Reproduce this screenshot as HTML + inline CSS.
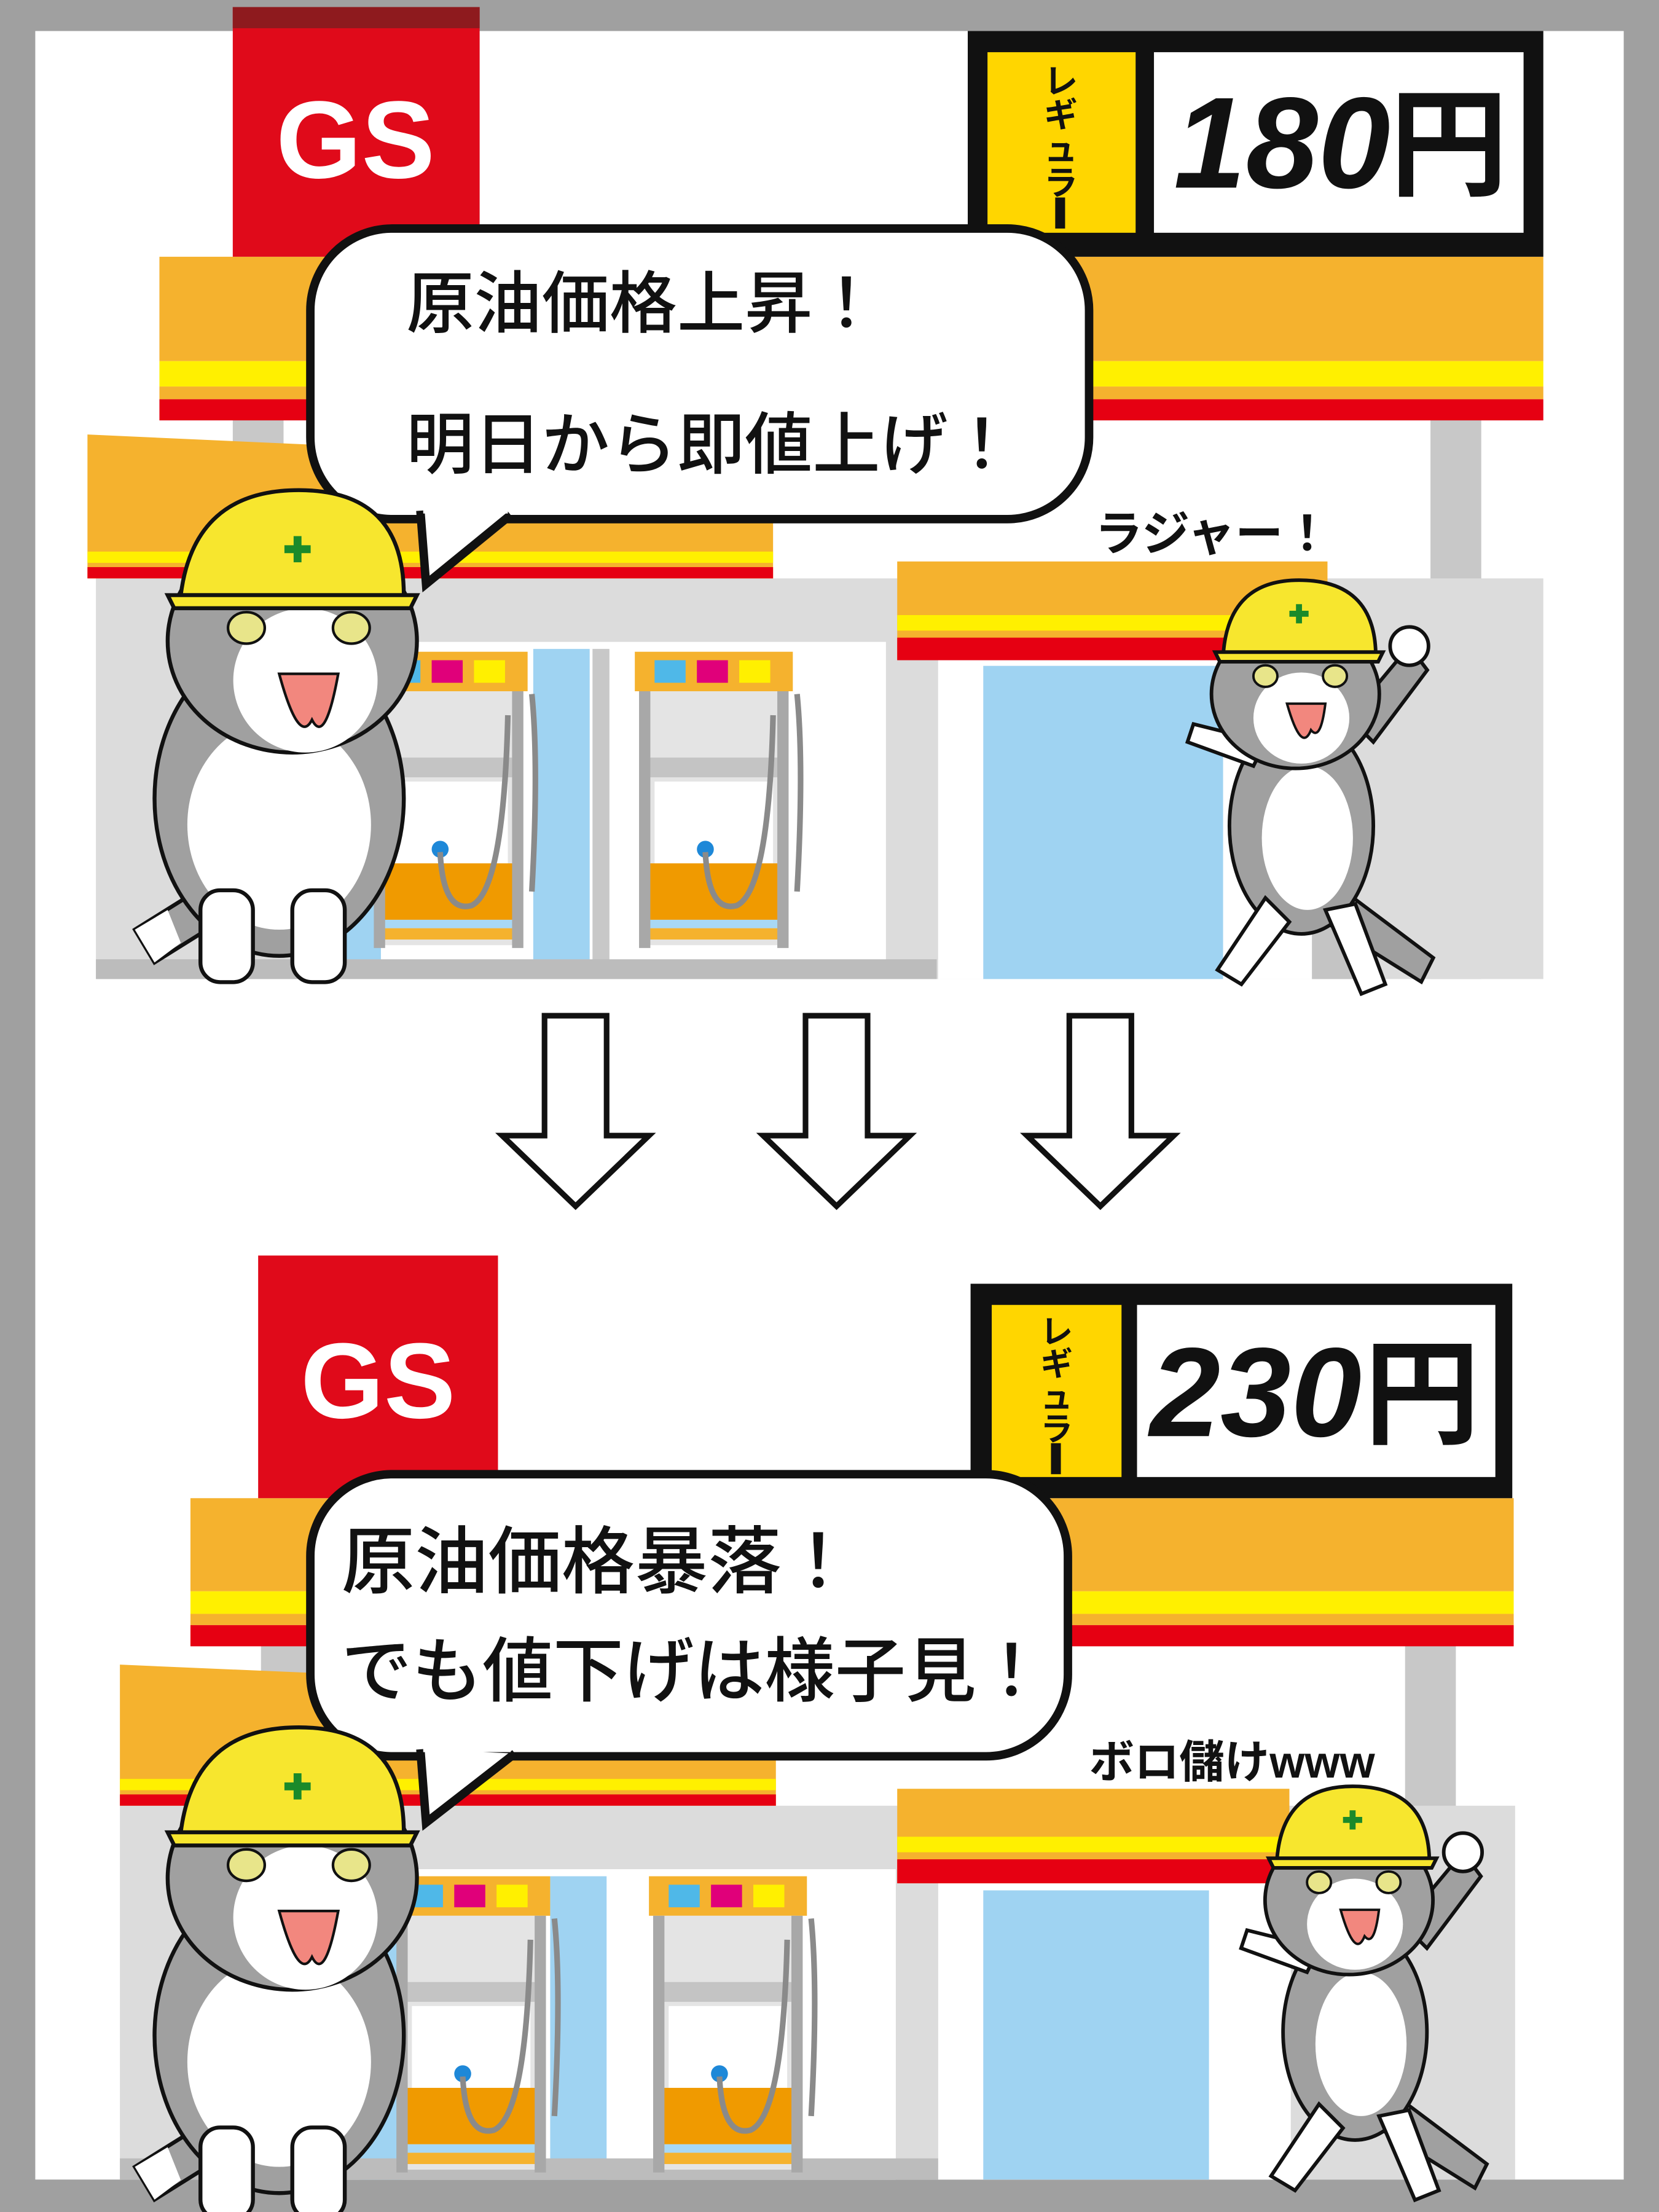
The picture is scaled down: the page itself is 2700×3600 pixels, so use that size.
<!DOCTYPE html>
<html><head><meta charset="utf-8"><style>
html,body{margin:0;padding:0;background:#a0a0a0;}
svg{display:block;}
text{font-family:"Liberation Sans","Noto Sans CJK JP",sans-serif;}
.jp{font-family:"Liberation Sans","Noto Sans CJK JP",sans-serif;font-weight:700;}
</style></head><body>
<svg width="2700" height="3600" viewBox="0 0 1176 1568" preserveAspectRatio="none" xmlns="http://www.w3.org/2000/svg">
<defs>
<g id="pump">
  <rect x="0" y="0" width="112" height="28" fill="#f5b22e"/>
  <rect x="14" y="6" width="22" height="16" fill="#4fb8e8"/>
  <rect x="44" y="6" width="22" height="16" fill="#e0007a"/>
  <rect x="74" y="6" width="22" height="16" fill="#fff000"/>
  <rect x="8" y="28" width="96" height="180" fill="#e4e4e4"/>
  <rect x="8" y="75" width="96" height="14" fill="#c4c4c4"/>
  <rect x="14" y="92" width="84" height="58" fill="#ffffff"/>
  <rect x="8" y="150" width="96" height="40" fill="#f09a00"/>
  <rect x="8" y="190" width="96" height="6" fill="#a8d8f5"/>
  <rect x="8" y="196" width="96" height="8" fill="#f5b22e"/>
  <rect x="3" y="28" width="8" height="182" fill="#a8a8a8"/>
  <rect x="101" y="28" width="8" height="182" fill="#a8a8a8"/>
  <circle cx="50" cy="140" r="6" fill="#1e88d8"/>
  <path d="M50 142 Q52 185 72 180 Q95 170 98 45" stroke="#8a8a8a" stroke-width="4" fill="none"/>
  <path d="M115 30 Q120 80 115 170" stroke="#8a8a8a" stroke-width="4" fill="none"/>
</g>
<g id="catL">
  <path d="M-80 200 L0 150 L15 175 L-65 225 Z" fill="#a0a0a0" stroke="#111" stroke-width="3"/>
  <path d="M-80 200 L-55 185 L-45 210 L-65 225 Z" fill="#fff"/>
  <ellipse cx="30" cy="100" rx="95" ry="120" fill="#a0a0a0" stroke="#111" stroke-width="3"/>
  <ellipse cx="30" cy="120" rx="70" ry="80" fill="#fff"/>
  <rect x="-30" y="170" width="40" height="70" rx="15" fill="#fff" stroke="#111" stroke-width="3"/>
  <rect x="40" y="170" width="40" height="70" rx="15" fill="#fff" stroke="#111" stroke-width="3"/>
  <ellipse cx="40" cy="-20" rx="95" ry="85" fill="#a0a0a0" stroke="#111" stroke-width="3"/>
  <ellipse cx="50" cy="10" rx="55" ry="55" fill="#fff"/>
  <ellipse cx="5" cy="-30" rx="14" ry="12" fill="#e8e58a" stroke="#111" stroke-width="2"/>
  <ellipse cx="85" cy="-30" rx="14" ry="12" fill="#e8e58a" stroke="#111" stroke-width="2"/>
  <path d="M30 5 Q45 60 55 40 Q65 60 75 5 Z" fill="#f2877e" stroke="#111" stroke-width="2"/>
  <path d="M-45 -55 Q-35 -135 45 -135 Q125 -135 125 -55 Z" fill="#f7e62e" stroke="#111" stroke-width="3"/>
  <path d="M-55 -55 L135 -55 L130 -45 L-50 -45 Z" fill="#f7e62e" stroke="#111" stroke-width="3"/>
  <path d="M44 -100 v20 M34 -90 h20" stroke="#1a8a2a" stroke-width="6"/>
</g>
<g id="catR">
  <path d="M80 180 L160 240 L150 260 L70 210 Z" fill="#a0a0a0" stroke="#111" stroke-width="3"/>
  <ellipse cx="50" cy="130" rx="60" ry="90" fill="#a0a0a0" stroke="#111" stroke-width="3"/>
  <ellipse cx="55" cy="140" rx="38" ry="60" fill="#fff"/>
  <path d="M20 190 L-20 250 L0 262 L40 210 Z" fill="#fff" stroke="#111" stroke-width="3"/>
  <path d="M70 200 L100 270 L120 262 L95 195 Z" fill="#fff" stroke="#111" stroke-width="3"/>
  <path d="M10 80 L-45 60 L-40 45 L20 60 Z" fill="#fff" stroke="#111" stroke-width="3"/>
  <path d="M90 40 L140 -20 L155 0 L110 60 Z" fill="#a0a0a0" stroke="#111" stroke-width="3"/>
  <circle cx="140" cy="-20" r="16" fill="#fff" stroke="#111" stroke-width="3"/>
  <ellipse cx="45" cy="20" rx="70" ry="62" fill="#a0a0a0" stroke="#111" stroke-width="3"/>
  <ellipse cx="50" cy="40" rx="40" ry="38" fill="#fff"/>
  <ellipse cx="20" cy="5" rx="10" ry="9" fill="#e8e58a" stroke="#111" stroke-width="2"/>
  <ellipse cx="78" cy="5" rx="10" ry="9" fill="#e8e58a" stroke="#111" stroke-width="2"/>
  <path d="M38 28 Q50 70 58 50 Q66 60 70 28 Z" fill="#f2877e" stroke="#111" stroke-width="2"/>
  <path d="M-15 -15 Q-10 -75 48 -75 Q110 -75 112 -15 Z" fill="#f7e62e" stroke="#111" stroke-width="3"/>
  <path d="M-22 -15 L118 -15 L114 -7 L-18 -7 Z" fill="#f7e62e" stroke="#111" stroke-width="3"/>
  <path d="M48 -55 v16 M40 -47 h16" stroke="#1a8a2a" stroke-width="5"/>
</g>
<polygon id="arrow" points="-22,0 22,0 22,85 52,85 0,135 -52,85 -22,85" fill="#fff" stroke="#111" stroke-width="4" stroke-linejoin="miter"/>
</defs>

<rect x="0" y="0" width="1176" height="1568" fill="#a0a0a0"/>
<rect x="25" y="22" width="1126" height="1523" fill="#ffffff"/>

<!-- ============ TOP PANEL ============ -->
<rect x="165" y="296" width="36" height="120" fill="#c8c8c8"/>
<rect x="1014" y="296" width="36" height="398" fill="#c8c8c8"/>
<rect x="636" y="410" width="458" height="284" fill="#dcdcdc"/>
<rect x="665" y="468" width="265" height="226" fill="#ffffff"/>
<rect x="697" y="472" width="170" height="222" fill="#9fd3f2"/>
<rect x="930" y="468" width="30" height="226" fill="#c4c4c4"/>
<rect x="68" y="410" width="596" height="284" fill="#dcdcdc"/>
<rect x="228" y="455" width="400" height="235" fill="#ffffff"/>
<rect x="240" y="460" width="30" height="230" fill="#9fd3f2"/>
<rect x="378" y="460" width="40" height="230" fill="#9fd3f2"/>
<rect x="420" y="460" width="12" height="230" fill="#c8c8c8"/>
<rect x="68" y="680" width="596" height="14" fill="#bcbcbc"/>
<polygon points="62,308 548,330 548,410 62,410" fill="#f5b22e"/>
<rect x="62" y="391" width="486" height="8" fill="#fff000"/>
<rect x="62" y="402" width="486" height="8" fill="#e60012"/>
<rect x="636" y="398" width="305" height="70" fill="#f5b22e"/>
<rect x="636" y="436" width="305" height="11" fill="#fff000"/>
<rect x="636" y="452" width="305" height="16" fill="#e60012"/>
<use href="#pump" x="262" y="462"/>
<use href="#pump" x="450" y="462"/>
<rect x="113" y="182" width="981" height="74" fill="#f5b22e"/>
<rect x="113" y="256" width="981" height="18" fill="#fff000"/>
<rect x="113" y="274" width="981" height="9" fill="#f5b22e"/>
<rect x="113" y="283" width="981" height="15" fill="#e60012"/>
<rect x="165" y="5" width="175" height="177" fill="#e00a1a"/>
<rect x="165" y="5" width="175" height="15" fill="#8e1a1e"/>
<text x="252" y="126" text-anchor="middle" font-size="78" font-weight="700" fill="#fff" style="font-family:'Liberation Sans',sans-serif">GS</text>
<rect x="686" y="22" width="408" height="160" fill="#111"/>
<rect x="700" y="37" width="105" height="128" fill="#ffd600"/>
<rect x="818" y="37" width="262" height="128" fill="#fff"/>
<g class="jp" font-size="24" fill="#111" text-anchor="middle">
<text x="752" y="66">レ</text><text x="752" y="90">ギ</text><text x="752" y="114">ュ</text><text x="752" y="138">ラ</text>
</g>
<rect x="748" y="140" width="7" height="22" fill="#111"/>
<text x="832" y="133" font-size="92" font-weight="700" font-style="italic" fill="#111" style="font-family:'Liberation Sans',sans-serif">180</text>
<text class="jp" x="985" y="132" font-size="84" fill="#111">円</text>
<rect x="220" y="162" width="552" height="206" rx="58" fill="#fff" stroke="#111" stroke-width="6"/>
<path d="M298 362 L302 414 L362 365" fill="#fff" stroke="#111" stroke-width="6" stroke-linejoin="miter"/>
<rect x="300" y="350" width="60" height="14" fill="#fff"/>
<text class="jp" x="288" y="232" font-size="48" fill="#111" style="font-weight:500">原油価格上昇！</text>
<text class="jp" x="288" y="332" font-size="48" fill="#111" style="font-weight:500">明日から即値上げ！</text>
<text class="jp" x="776" y="390" font-size="34" fill="#111">ラジャー！</text>
<use href="#catL" transform="translate(170,473) scale(0.93)"/>
<use href="#catR" transform="translate(880,475) scale(0.85)"/>

<!-- ============ ARROWS ============ -->
<use href="#arrow" x="408" y="720"/>
<use href="#arrow" x="593" y="720"/>
<use href="#arrow" x="780" y="720"/>

<!-- ============ BOTTOM PANEL ============ -->
<rect x="185" y="1165" width="36" height="120" fill="#c8c8c8"/>
<rect x="996" y="1165" width="36" height="380" fill="#c8c8c8"/>
<rect x="636" y="1280" width="438" height="265" fill="#dcdcdc"/>
<rect x="665" y="1335" width="250" height="210" fill="#ffffff"/>
<rect x="697" y="1340" width="160" height="205" fill="#9fd3f2"/>
<rect x="85" y="1280" width="580" height="265" fill="#dcdcdc"/>
<rect x="245" y="1325" width="390" height="220" fill="#ffffff"/>
<rect x="255" y="1330" width="30" height="215" fill="#9fd3f2"/>
<rect x="390" y="1330" width="40" height="215" fill="#9fd3f2"/>
<rect x="85" y="1530" width="580" height="15" fill="#bcbcbc"/>
<polygon points="85,1180 550,1200 550,1280 85,1280" fill="#f5b22e"/>
<rect x="85" y="1261" width="465" height="8" fill="#fff000"/>
<rect x="85" y="1272" width="465" height="8" fill="#e60012"/>
<rect x="636" y="1268" width="278" height="67" fill="#f5b22e"/>
<rect x="636" y="1302" width="278" height="11" fill="#fff000"/>
<rect x="636" y="1318" width="278" height="17" fill="#e60012"/>
<use href="#pump" x="278" y="1330"/>
<use href="#pump" x="460" y="1330"/>
<rect x="135" y="1062" width="938" height="66" fill="#f5b22e"/>
<rect x="135" y="1128" width="938" height="16" fill="#fff000"/>
<rect x="135" y="1144" width="938" height="8" fill="#f5b22e"/>
<rect x="135" y="1152" width="938" height="15" fill="#e60012"/>
<rect x="183" y="890" width="170" height="172" fill="#e00a1a"/>
<text x="268" y="1005" text-anchor="middle" font-size="76" font-weight="700" fill="#fff" style="font-family:'Liberation Sans',sans-serif">GS</text>
<rect x="688" y="910" width="384" height="152" fill="#111"/>
<rect x="703" y="925" width="92" height="122" fill="#ffd600"/>
<rect x="806" y="925" width="254" height="122" fill="#fff"/>
<g class="jp" font-size="23" fill="#111" text-anchor="middle">
<text x="749" y="952">レ</text><text x="749" y="975">ギ</text><text x="749" y="998">ュ</text><text x="749" y="1021">ラ</text>
</g>
<rect x="745" y="1023" width="7" height="22" fill="#111"/>
<text x="815" y="1018" font-size="90" font-weight="700" font-style="italic" fill="#111" style="font-family:'Liberation Sans',sans-serif">230</text>
<text class="jp" x="967" y="1017" font-size="82" fill="#111">円</text>
<rect x="220" y="1045" width="537" height="200" rx="58" fill="#fff" stroke="#111" stroke-width="6"/>
<path d="M298 1240 L302 1292 L365 1243" fill="#fff" stroke="#111" stroke-width="6"/>
<rect x="300" y="1228" width="62" height="14" fill="#fff"/>
<text class="jp" x="242" y="1125" font-size="52" fill="#111" style="font-weight:500">原油価格暴落！</text>
<text class="jp" x="242" y="1202" font-size="50" fill="#111" style="font-weight:500">でも値下げは様子見！</text>
<text class="jp" x="772" y="1260" font-size="32" fill="#111">ボロ儲けwww</text>
<use href="#catL" transform="translate(170,1350) scale(0.93)"/>
<use href="#catR" transform="translate(918,1330) scale(0.85)"/>
</svg>
</body></html>
